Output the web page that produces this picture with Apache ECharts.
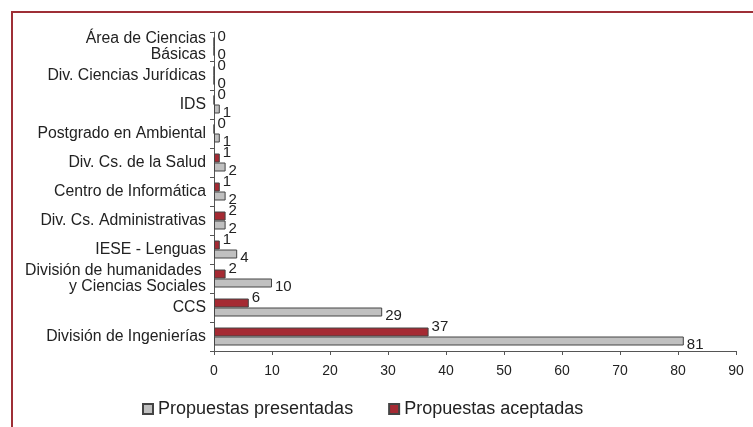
<!DOCTYPE html>
<html>
<head>
<meta charset="utf-8">
<script src="https://cdn.jsdelivr.net/npm/echarts@6/dist/echarts.min.js"></script>
<style>
  html, body { margin: 0; padding: 0; background: #fff; }
  #chart { width: 753px; height: 427px; }
</style>
</head>
<body>
<div id="chart"></div>
<script>
// categories bottom -> top (ECharts puts index 0 at the bottom)
var categories = [
  'División de Ingenierías',
  'CCS',
  'División de humanidades \ny Ciencias Sociales',
  'IESE - Lenguas',
  'Div. Cs. Administrativas',
  'Centro de Informática',
  'Div. Cs. de la Salud',
  'Postgrado en Ambiental',
  'IDS',
  'Div. Ciencias Jurídicas',
  'Área de Ciencias\nBásicas'
];
var presentadas = [81, 29, 10, 4, 2, 2, 2, 1, 1, 0, 0];
var aceptadas = [37, 6, 2, 1, 2, 1, 1, 0, 0, 0, 0];
var xTicks = [0, 90, 10]; // min, max, step

var myChart = echarts.init(document.getElementById('chart'));
var font = 'Liberation Sans, Arial, sans-serif';
var option = {
  backgroundColor: '#fff',
  animation: false,
  textStyle: { fontFamily: font },
  // red frame round the chart (goes off the right and bottom edge)
  graphic: [{
    type: 'rect',
    shape: { x: 12, y: 12, width: 800, height: 500 },
    style: { fill: 'none', stroke: '#9e2f36', lineWidth: 2 },
    z: 100
  }],
  legend: {
    left: 137,
    top: 395,
    itemWidth: 10,
    itemHeight: 10,
    itemGap: 35,
    icon: 'rect',
    textStyle: { fontSize: 18, color: '#222', fontFamily: font },
    data: ['Propuestas presentadas', 'Propuestas aceptadas']
  },
  grid: { left: 214, right: 17, top: 32, bottom: 76, containLabel: false },
  xAxis: {
    type: 'value',
    min: xTicks[0],
    max: xTicks[1],
    interval: xTicks[2],
    splitLine: { show: false },
    axisLine: { show: true, lineStyle: { color: '#555', width: 1 } },
    axisTick: { show: true, length: 4, lineStyle: { color: '#555' } },
    axisLabel: { color: '#222', fontSize: 14, margin: 13, fontFamily: font }
  },
  yAxis: {
    type: 'category',
    data: categories,
    axisLine: { show: true, lineStyle: { color: '#555', width: 1 } },
    axisTick: { show: true, length: 4, lineStyle: { color: '#555' } },
    axisLabel: { color: '#222', fontSize: 15.8, margin: 8, lineHeight: 16, fontFamily: font }
  },
  // first series is drawn on top inside each category
  series: [{
    name: 'Propuestas aceptadas',
    type: 'bar',
    data: aceptadas,
    barWidth: 9,
    barGap: '0%',
    itemStyle: { color: '#a52a33', borderColor: '#444', borderWidth: 1 },
    label: { show: true, position: 'right', distance: 3, offset: [0, -5], color: '#222', fontSize: 15, fontFamily: font }
  }, {
    name: 'Propuestas presentadas',
    type: 'bar',
    data: presentadas,
    barWidth: 9,
    barGap: '0%',
    itemStyle: { color: '#c0c0c0', borderColor: '#444', borderWidth: 1 },
    label: { show: true, position: 'right', distance: 3, offset: [0, 4], color: '#222', fontSize: 15, fontFamily: font }
  }]
};
myChart.setOption(option);
</script>
</body>
</html>
